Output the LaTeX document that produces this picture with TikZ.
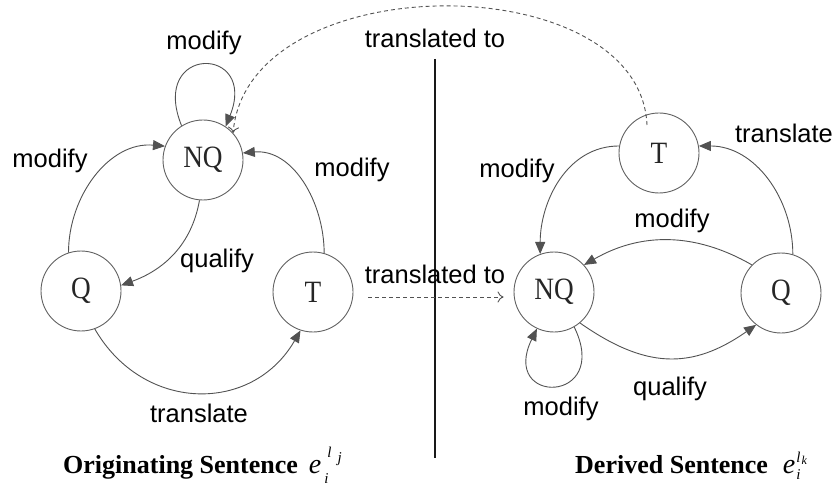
\documentclass[tikz,border=0pt]{standalone}
\usepackage{fontspec}
\setmainfont{Liberation Serif}
\setsansfont{Liberation Sans}
\newfontfamily\statefont[FakeStretch=0.88]{Liberation Serif}
\usetikzlibrary{arrows.meta}

% small italic letters for the sentence symbols
\newcommand{\scr}[1]{{\fontsize{15}{15}\selectfont\normalfont\itshape #1}}
\newcommand{\bige}{{\fontsize{28}{28}\selectfont\normalfont\itshape e}}

\tikzset{
  nstate/.style={circle, draw=black!62, line width=0.9pt, minimum size=80pt,
    inner sep=0pt, font=\statefont\fontsize{31}{31}\selectfont, text=black!85},
  rel/.style={draw=black!68, line width=0.9pt,
    -{Triangle[length=12pt,width=10pt]}},
  xlate/.style={draw=black!68, line width=0.9pt, dash pattern=on 4pt off 3pt,
    -{To[length=6pt,width=11pt]}},
  lbl/.style={font=\sffamily\fontsize{25.5}{26}\selectfont, anchor=base,
    inner sep=0pt},
  caption/.style={font=\bfseries\fontsize{26}{26}\selectfont,
    anchor=base west, inner sep=0pt},
}

\begin{document}
\begin{tikzpicture}[x=1pt,y=1pt]
\useasboundingbox (0,0) rectangle (838,-489);

% ---------- originating sentence ----------
\node[nstate] (NQ1) at (203,-160) {NQ};
\node[nstate] (Q1)  at (81,-291)  {Q};
\node[nstate] (T1)  at (313,-292) {T};

\draw[rel] (NQ1.122) .. controls +(112:88) and +(68:88) .. (NQ1.56);
\draw[rel] (Q1.108) to[out=90,in=175] (NQ1.160);
\draw[rel] (T1.74) to[out=90,in=5] (NQ1.10);
\draw[rel] (NQ1.-95) to[out=-100,in=20] (Q1.8);
\draw[rel] (Q1.-70) to[out=-60,in=-120,looseness=1.2] (T1.-108);

\node[lbl] (l1) at (204,-50)  {modify};
\node[lbl] (l2) at (50,-168)  {modify};
\node[lbl] (l3) at (352,-177) {modify};
\node[lbl] (l4) at (217,-267) {qualify};
\node[lbl] (l5) at (199,-422) {translate};

% ---------- derived sentence ----------
\node[nstate] (T2)  at (659,-153) {T};
\node[nstate] (NQ2) at (554,-292) {NQ};
\node[nstate] (Q2)  at (781,-293) {Q};

\draw[rel] (T2.170) to[out=180,in=90] (NQ2.110);
\draw[rel] (Q2.73) to[out=90,in=0] (T2.10);
\draw[rel] (Q2.136) to[out=150,in=30] (NQ2.42);
\draw[rel] (NQ2.-50) to[out=-35,in=-145,looseness=1.15] (Q2.-128);
\draw[rel] (NQ2.-60) .. controls +(-64:86) and +(-116:86) .. (NQ2.-115);

\node[lbl] (r1) at (517,-178) {modify};
\node[lbl] (r2) at (784,-143) {translate};
\node[lbl] (r3) at (672,-228) {modify};
\node[lbl] (r4) at (670,-395) {qualify};
\node[lbl] (r5) at (561,-415) {modify};

% ---------- separator and translation links ----------
\coordinate (sepTop) at (435,-59);
\coordinate (sepBot) at (435,-458);
\draw[line width=2pt, black!90] (sepTop) -- (sepBot);

\node[lbl] (t1) at (435,-48)  {translated to};
\node[lbl] (t2) at (435,-283) {translated to};

\draw[xlate, shorten <=15pt, shorten >=10pt]
  ([yshift=-5pt]T1.east) -- ([yshift=-5pt]NQ2.west);
\draw[xlate]
  ([shift={(-12pt,28pt)}]T2.center) .. controls (640,35) and (248,35) .. (NQ1.42);

% ---------- captions ----------
\node[caption] (c1) at (63,-473)
  {Originating Sentence\hspace{11pt}\bige\hspace{3pt}\rlap{\raisebox{-10pt}{\scr{i}}}\hspace{3pt}\raisebox{16pt}{\scr{l}}\hspace{6pt}\raisebox{11pt}{\scr{j}}};
\node[caption] (c2) at (575,-473)
  {Derived Sentence\hspace{15pt}\bige\hspace{1pt}\rlap{\raisebox{-6pt}{\scr{i}}}\raisebox{11pt}{\scr{l}\hspace{1pt}\raisebox{-2pt}{{\fontsize{12}{12}\selectfont\normalfont\itshape k}}}};
\end{tikzpicture}
\end{document}
